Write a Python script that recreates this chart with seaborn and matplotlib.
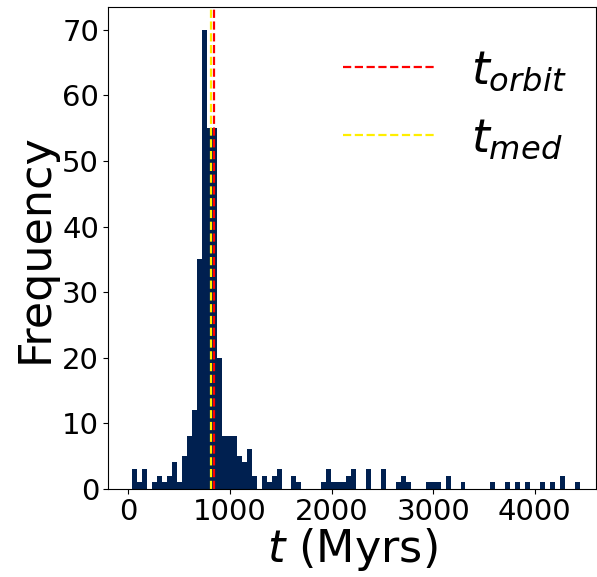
import matplotlib
matplotlib.use("Agg")
import matplotlib.pyplot as plt
import seaborn as sns
import numpy as np

# histogram counts, 90 equal bins between bin_start and bin_stop (Myrs)
bin_start = 39
bin_stop = 4443
counts = [3, 1, 3, 0, 1, 2, 1, 2, 4, 1,
          5, 8, 12, 35, 70, 55, 55, 20, 8, 8,
          8, 5, 4, 6, 2, 0, 2, 1, 2, 3,
          0, 0, 2, 1, 0, 0, 0, 0, 1, 3,
          1, 1, 1, 2, 3, 0, 0, 3, 0, 0,
          3, 0, 0, 1, 2, 1, 0, 0, 0, 1,
          1, 1, 0, 2, 0, 0, 1, 0, 0, 0,
          0, 0, 1, 0, 0, 1, 0, 1, 0, 1,
          0, 0, 1, 0, 1, 0, 2, 0, 0, 1]
t_orbit = 840
t_med = 812

xticks = [0, 1000, 2000, 3000, 4000]
yticks = [0, 10, 20, 30, 40, 50, 60, 70]

n_bins = len(counts)
width = (bin_stop - bin_start) / n_bins
centers = bin_start + width * (np.arange(n_bins) + 0.5)

fig, ax = plt.subplots(figsize=(5.97, 5.77), dpi=100)
sns.histplot(x=centers, weights=counts, bins=n_bins, binrange=(bin_start, bin_stop),
             color="#002050", alpha=1, linewidth=0, ax=ax)
ax.axvline(t_orbit, color="red", linestyle="--", linewidth=1.6, label="$t_{orbit}$")
ax.axvline(t_med, color="#ffee00", linestyle="--", linewidth=1.6, label="$t_{med}$")

ax.set_xlim(-200, 4600)
ax.set_ylim(0, 73.5)
ax.set_xticks(xticks)
ax.set_yticks(yticks)
ax.tick_params(labelsize=21, pad=3)
ax.set_xlabel("$t$ (Myrs)", fontsize=32, labelpad=0)
ax.set_ylabel("Frequency", fontsize=32)
ax.legend(fontsize=33, frameon=False, loc="upper right", bbox_to_anchor=(1.025, 1.0))

fig.subplots_adjust(left=0.181, right=0.998, top=0.988, bottom=0.153)
fig.savefig("out.png", dpi=100)
